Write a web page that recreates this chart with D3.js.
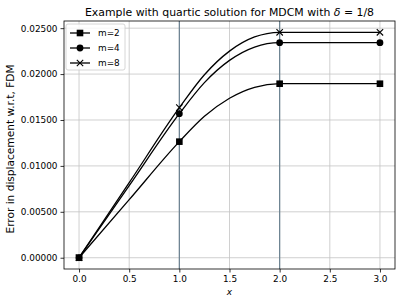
<!DOCTYPE html>
<html>
<head>
<meta charset="utf-8">
<script src="https://cdn.jsdelivr.net/npm/d3@7"></script>
<style>
  body { margin: 0; background: #fff; }
  svg { display: block; font-family: "DejaVu Sans", sans-serif; }
</style>
</head>
<body>
<svg id="chart" width="402" height="304" viewBox="0 0 402 304"></svg>
<script>
// sample positions
const xs = [0, 0.5, 1, 1.25, 1.5, 1.75, 2, 2.5, 3];
const markerXs = [0, 1, 2, 3];
const m2 = [0, 0.00632, 0.01264, 0.01540, 0.01737, 0.01856, 0.01895, 0.01895, 0.01895];
const m4 = [0, 0.00785, 0.01569, 0.01907, 0.02149, 0.02294, 0.02342, 0.02342, 0.02342];
const m8 = [0, 0.00817, 0.01634, 0.01993, 0.02250, 0.02404, 0.02455, 0.02455, 0.02455];
const seriesNames = ["m=2", "m=4", "m=8"];
const seriesMarkers = ["square", "circle", "x"];
const xTicks = [0, 0.5, 1, 1.5, 2, 2.5, 3];
const yTicks = [0, 0.005, 0.01, 0.015, 0.02, 0.025];
const vLines = [1, 2];

const svg = d3.select("#chart");
const plotLeft = 64, plotRight = 395, plotTop = 21, plotBottom = 269;

const x = d3.scaleLinear().domain([-0.15, 3.15]).range([plotLeft, plotRight]);
const y = d3.scaleLinear().domain([-0.001228, 0.02578]).range([plotBottom, plotTop]);

const series = [m2, m4, m8].map((vals, i) => ({
    name: seriesNames[i],
    marker: seriesMarkers[i],
    points: xs.map((xv, j) => ({ x: xv, y: vals[j] }))
}));

// grid
const grid = svg.append("g");
grid.selectAll(".gx").data(xTicks).enter().append("line")
    .attr("x1", d => x(d)).attr("x2", d => x(d))
    .attr("y1", plotTop).attr("y2", plotBottom)
    .attr("stroke", "#c4c4c4").attr("stroke-width", 0.8);
grid.selectAll(".gy").data(yTicks).enter().append("line")
    .attr("x1", plotLeft).attr("x2", plotRight)
    .attr("y1", d => y(d)).attr("y2", d => y(d))
    .attr("stroke", "#c4c4c4").attr("stroke-width", 0.8);

// vertical reference lines
svg.append("g").selectAll("line").data(vLines).enter().append("line")
    .attr("x1", d => x(d)).attr("x2", d => x(d))
    .attr("y1", plotTop).attr("y2", plotBottom)
    .attr("stroke", "#6a8190").attr("stroke-width", 1.2);

// curves
const line = d3.line()
    .x(d => x(d.x))
    .y(d => y(d.y))
    .curve(d3.curveMonotoneX);

const plot = svg.append("g");
plot.selectAll("path").data(series).enter().append("path")
    .attr("d", d => line(d.points))
    .attr("fill", "none")
    .attr("stroke", "#000")
    .attr("stroke-width", 1.3);

function drawMarker(g, kind, cx, cy) {
    if (kind === "square") {
        g.append("rect").attr("x", cx - 3.3).attr("y", cy - 3.3)
            .attr("width", 6.6).attr("height", 6.6).attr("fill", "#000");
    } else if (kind === "circle") {
        g.append("circle").attr("cx", cx).attr("cy", cy).attr("r", 3.4).attr("fill", "#000");
    } else {
        const s = 3.2;
        g.append("path")
            .attr("d", `M${cx - s},${cy - s}L${cx + s},${cy + s}M${cx - s},${cy + s}L${cx + s},${cy - s}`)
            .attr("stroke", "#000").attr("stroke-width", 1.1);
    }
}

series.forEach(s => {
    const g = plot.append("g");
    s.points.filter(p => markerXs.includes(p.x))
        .forEach(p => drawMarker(g, s.marker, x(p.x), y(p.y)));
});

// spines
svg.append("rect")
    .attr("x", plotLeft).attr("y", plotTop)
    .attr("width", plotRight - plotLeft).attr("height", plotBottom - plotTop)
    .attr("fill", "none").attr("stroke", "#000").attr("stroke-width", 0.8);

// axes
const xAxis = svg.append("g")
    .attr("transform", `translate(0,${plotBottom})`)
    .call(d3.axisBottom(x).tickValues(xTicks).tickFormat(d3.format(".1f")).tickSize(3.5).tickPadding(3));
const yAxis = svg.append("g")
    .attr("transform", `translate(${plotLeft},0)`)
    .call(d3.axisLeft(y).tickValues(yTicks).tickFormat(d3.format(".5f")).tickSize(3.5).tickPadding(3));
[xAxis, yAxis].forEach(a => {
    a.select(".domain").remove();
    a.selectAll(".tick line").attr("stroke", "#000").attr("stroke-width", 0.8);
    a.selectAll("text").attr("font-family", "DejaVu Sans").attr("font-size", 8.9).attr("fill", "#000");
});

// labels
svg.append("text")
    .attr("x", (plotLeft + plotRight) / 2).attr("y", 295)
    .attr("text-anchor", "middle")
    .attr("font-size", 9).attr("font-style", "italic")
    .text("x");

svg.append("text")
    .attr("transform", `translate(13.5,${(plotTop + plotBottom) / 2 + 4}) rotate(-90)`)
    .attr("text-anchor", "middle")
    .attr("font-size", 10.6)
    .text("Error in displacement w.r.t, FDM");

const title = svg.append("text")
    .attr("x", (plotLeft + plotRight) / 2).attr("y", 16)
    .attr("text-anchor", "middle")
    .attr("font-size", 10.9);
title.append("tspan").text("Example with quartic solution for MDCM with ");
title.append("tspan").attr("font-style", "italic").text("δ");
title.append("tspan").text(" = 1/8");

// legend
const legend = svg.append("g").attr("transform", "translate(66,24)");
legend.append("rect")
    .attr("width", 59).attr("height", 46).attr("rx", 2)
    .attr("fill", "#fff").attr("fill-opacity", 0.8)
    .attr("stroke", "#cccccc").attr("stroke-width", 0.8);
series.forEach((s, i) => {
    const ly = 9 + i * 15;
    const g = legend.append("g");
    g.append("line").attr("x1", 4).attr("x2", 24).attr("y1", ly).attr("y2", ly)
        .attr("stroke", "#000").attr("stroke-width", 1.3);
    drawMarker(g, s.marker, 14, ly);
    g.append("text").attr("x", 32).attr("y", ly + 3.2)
        .attr("font-size", 8.9).text(s.name);
});
</script>
</body>
</html>
